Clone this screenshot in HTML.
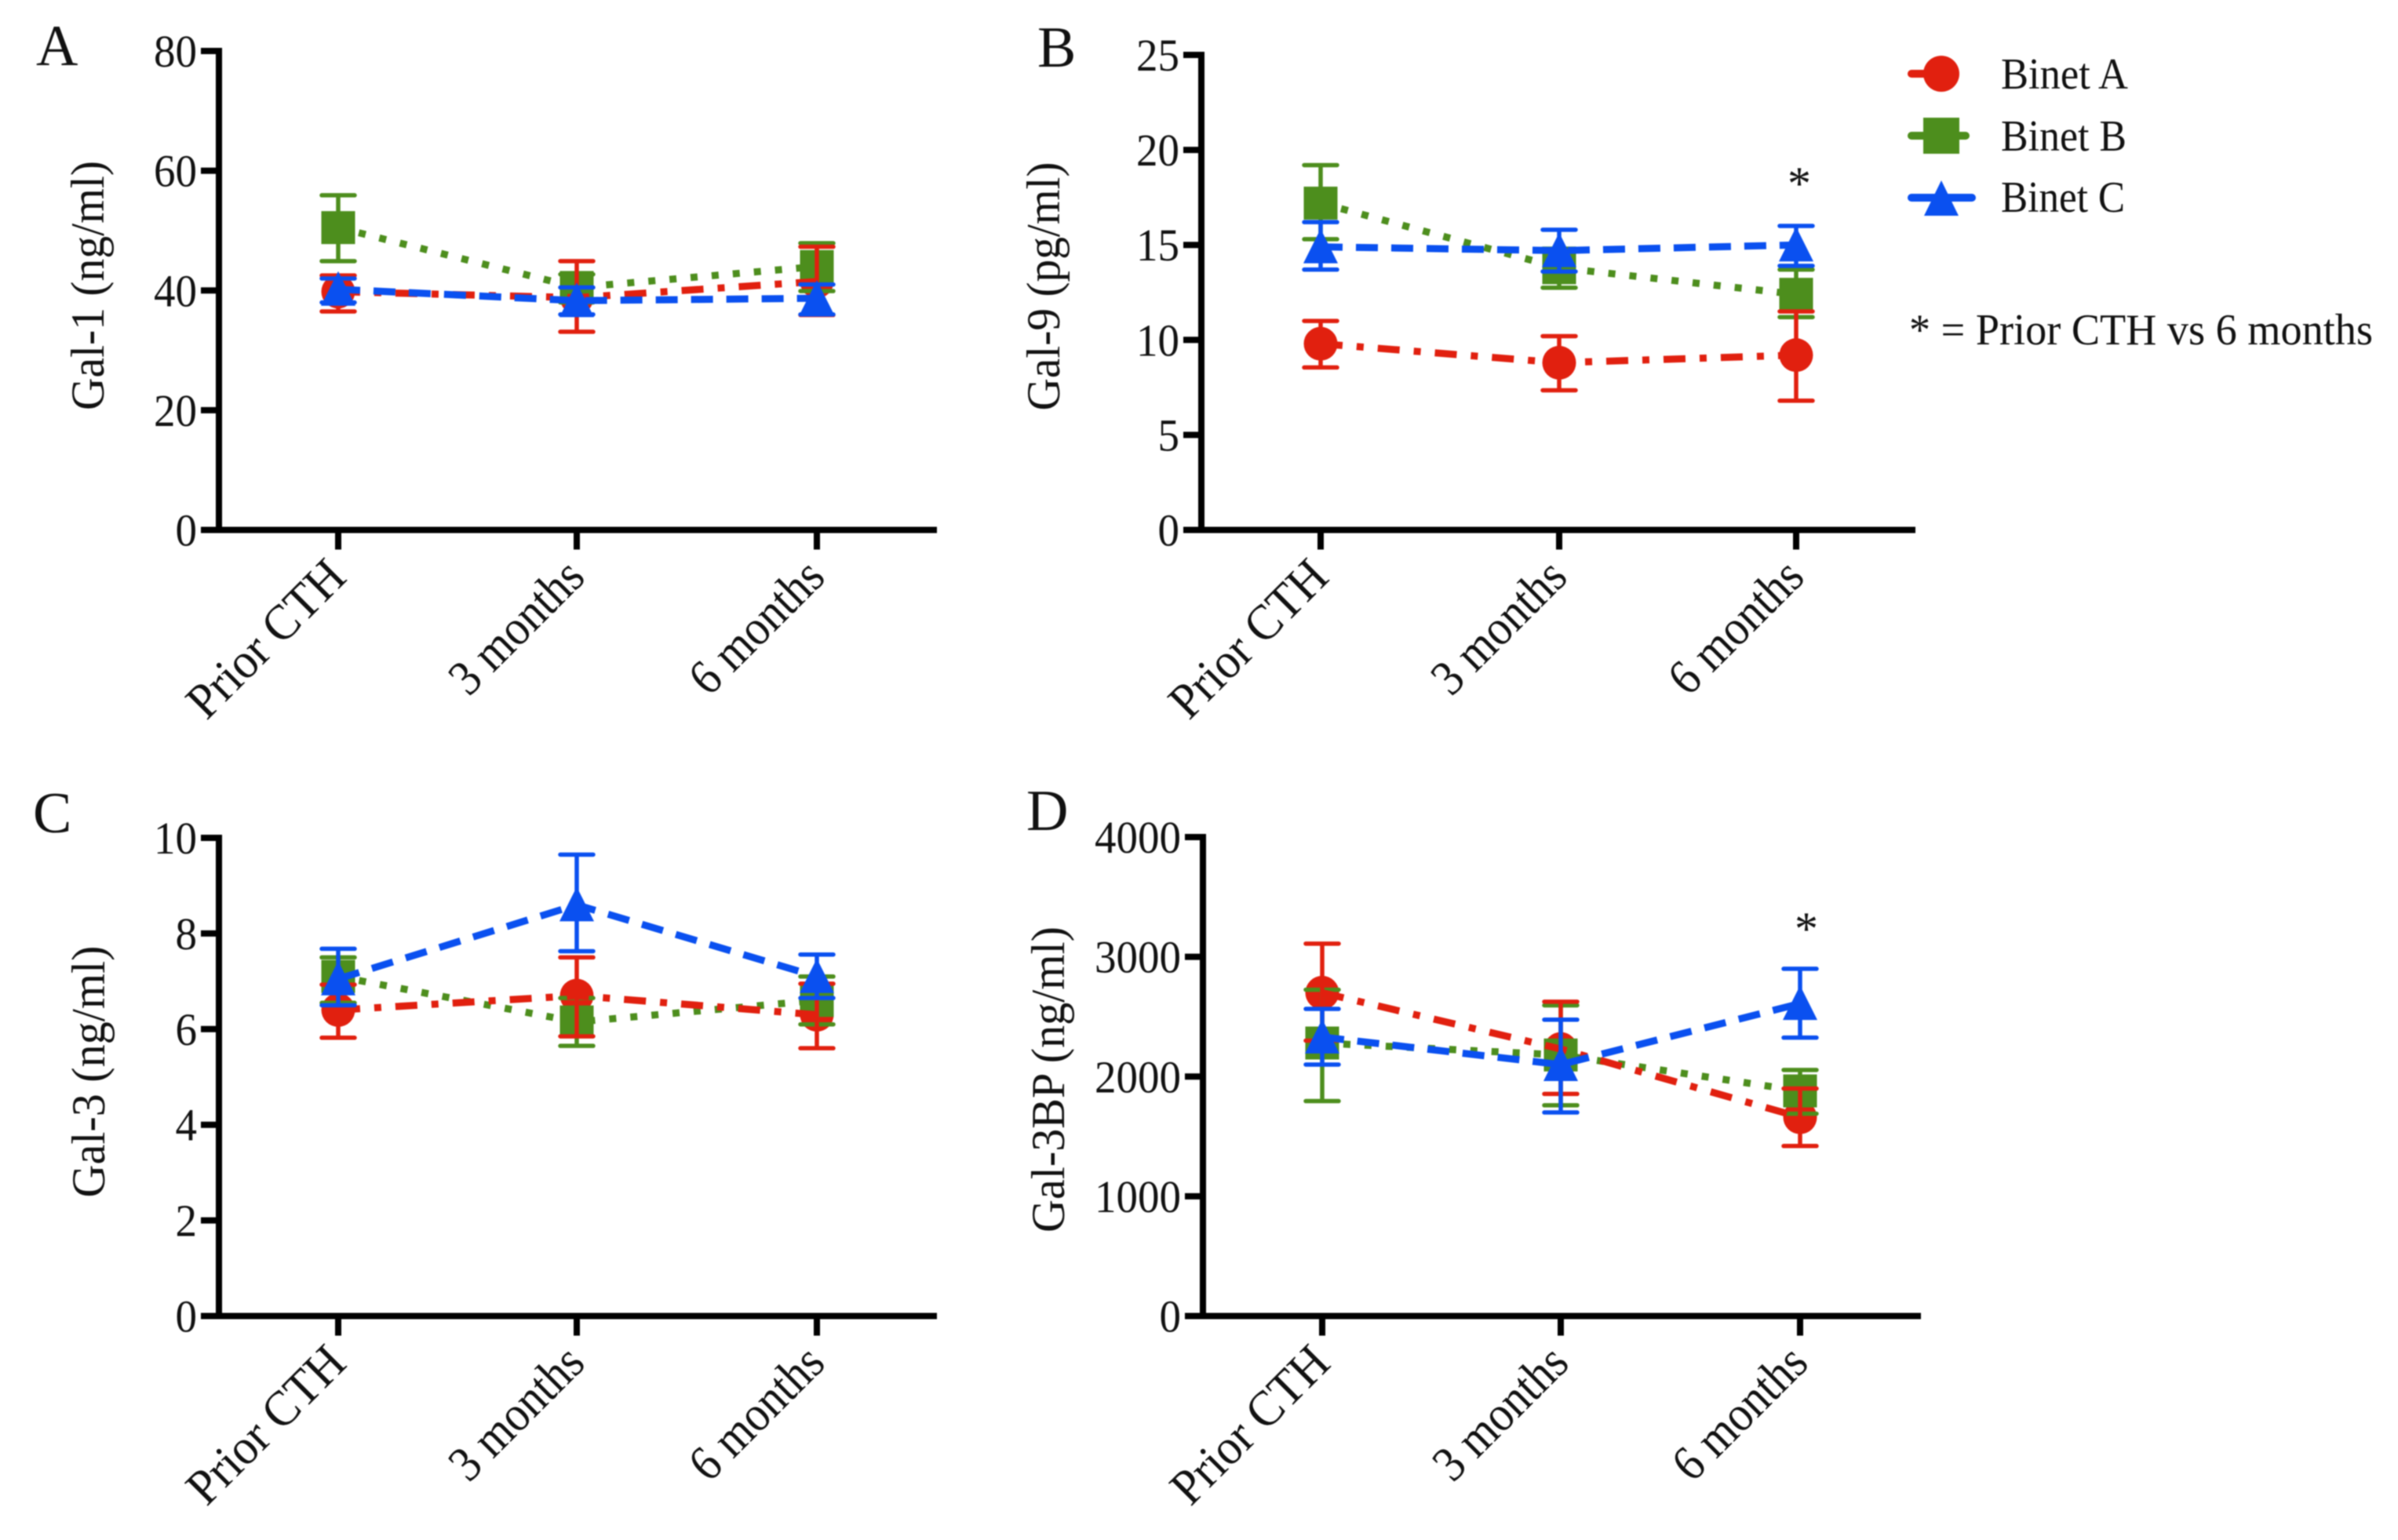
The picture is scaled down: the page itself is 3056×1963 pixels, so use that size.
<!DOCTYPE html>
<html lang="en">
<head>
<meta charset="utf-8">
<title>Galectin levels by Binet stage</title>
<style>
html,body{margin:0;padding:0;background:#fff;}
svg{display:block;filter:blur(0.7px);}
text{font-family:"Liberation Serif",serif;fill:#111;}
</style>
</head>
<body>
<svg id="figure" xmlns="http://www.w3.org/2000/svg" width="3056" height="1963" viewBox="0 0 3056 1963">
  <rect width="3056" height="1963" fill="#fff"/>
  <g id="panels"></g>
  <g>
    <g>
      <line x1="2436" x2="2490" y1="94" y2="94" stroke="#e1200f" stroke-width="10" stroke-linecap="round"/>
      <circle cx="2474" cy="94" r="23" fill="#e1200f"/>
      <text x="2550" y="113" font-size="56" textLength="162" lengthAdjust="spacingAndGlyphs">Binet A</text>
    </g>
    <g>
      <line x1="2436" x2="2505" y1="173" y2="173" stroke="#4d8e1d" stroke-width="10" stroke-linecap="round"/>
      <rect x="2451" y="150" width="46" height="46" fill="#4d8e1d"/>
      <text x="2550" y="192" font-size="56" textLength="160" lengthAdjust="spacingAndGlyphs">Binet B</text>
    </g>
    <g>
      <line x1="2436" x2="2513" y1="252" y2="252" stroke="#0a50f0" stroke-width="10" stroke-linecap="round"/>
      <polygon points="2474,230 2452,275 2496,275" fill="#0a50f0"/>
      <text x="2550" y="270" font-size="56" textLength="158" lengthAdjust="spacingAndGlyphs">Binet C</text>
    </g>
    <text x="2433" y="439" font-size="56" textLength="591" lengthAdjust="spacingAndGlyphs">* = Prior CTH vs 6 months</text>
  </g>
</svg>
<script>
const categories = ["Prior CTH", "3 months", "6 months"];
const seriesNames = ["Binet A", "Binet B", "Binet C"];

const gal1Ticks = [0, 20, 40, 60, 80];
const gal1BinetA = [39.8, 38.8, 41.5];
const gal1BinetAHigh = [42.5, 44.9, 47.3];
const gal1BinetALow = [36.5, 33.1, 35.9];
const gal1BinetB = [50.5, 40.5, 44];
const gal1BinetBHigh = [55.9, 42.7, 47.9];
const gal1BinetBLow = [44.9, 38, 39.9];
const gal1BinetC = [40.2, 38.3, 38.7];
const gal1BinetCHigh = [42, 40.5, 41];
const gal1BinetCLow = [38, 36, 36];

const gal9Ticks = [0, 5, 10, 15, 20, 25];
const gal9BinetA = [9.8, 8.8, 9.2];
const gal9BinetAHigh = [11, 10.2, 11.5];
const gal9BinetALow = [8.55, 7.35, 6.8];
const gal9BinetB = [17.2, 13.8, 12.4];
const gal9BinetBHigh = [19.2, 14.8, 13.7];
const gal9BinetBLow = [15.3, 12.75, 11.2];
const gal9BinetC = [14.9, 14.7, 15];
const gal9BinetCHigh = [16.2, 15.8, 16];
const gal9BinetCLow = [13.7, 13.6, 13.9];

const gal3Ticks = [0, 2, 4, 6, 8, 10];
const gal3BinetA = [6.4, 6.7, 6.3];
const gal3BinetAHigh = [6.93, 7.5, 6.95];
const gal3BinetALow = [5.82, 5.85, 5.6];
const gal3BinetB = [7.1, 6.15, 6.6];
const gal3BinetBHigh = [7.5, 6.65, 7.1];
const gal3BinetBLow = [6.55, 5.65, 6.1];
const gal3BinetC = [7.05, 8.6, 7.1];
const gal3BinetCHigh = [7.68, 9.65, 7.56];
const gal3BinetCLow = [6.5, 7.63, 6.65];

const gal3bpTicks = [0, 1000, 2000, 3000, 4000];
const gal3bpBinetA = [2700, 2230, 1660];
const gal3bpBinetAHigh = [3110, 2625, 1900];
const gal3bpBinetALow = [2300, 1855, 1420];
const gal3bpBinetB = [2280, 2180, 1880];
const gal3bpBinetBHigh = [2725, 2595, 2055];
const gal3bpBinetBLow = [1795, 1760, 1690];
const gal3bpBinetC = [2330, 2100, 2610];
const gal3bpBinetCHigh = [2565, 2475, 2900];
const gal3bpBinetCLow = [2100, 1700, 2325];

const NS = "http://www.w3.org/2000/svg";
const root = document.getElementById("panels");
const colors = ["#e1200f", "#4d8e1d", "#0a50f0"];
const dashes = ["28 18 9 18", "9 18", "28 17"];

const panels = [
  { id: "a", letter: "A", lx: 46, ly: 83, title: "Gal-1 (ng/ml)", titleX: 132, titleY: 364, titleLen: 318,
    axisX: 279, xEnd: 1194, xTicks: [431, 735, 1041], y0: 675.5, yTop: 65, ticks: gal1Ticks,
    means: [gal1BinetA, gal1BinetB, gal1BinetC], highs: [gal1BinetAHigh, gal1BinetBHigh, gal1BinetCHigh], lows: [gal1BinetALow, gal1BinetBLow, gal1BinetCLow] },
  { id: "b", letter: "B", lx: 1322, ly: 85, title: "Gal-9 (pg/ml)", titleX: 1350, titleY: 365, titleLen: 317,
    axisX: 1531, xEnd: 2441, xTicks: [1683, 1987, 2289], y0: 675.5, yTop: 70, ticks: gal9Ticks, star: [2293, 254],
    means: [gal9BinetA, gal9BinetB, gal9BinetC], highs: [gal9BinetAHigh, gal9BinetBHigh, gal9BinetCHigh], lows: [gal9BinetALow, gal9BinetBLow, gal9BinetCLow] },
  { id: "c", letter: "C", lx: 42, ly: 1061, title: "Gal-3 (ng/ml)", titleX: 133, titleY: 1366, titleLen: 321,
    axisX: 279, xEnd: 1194, xTicks: [431, 735, 1041], y0: 1677.5, yTop: 1068, ticks: gal3Ticks,
    means: [gal3BinetA, gal3BinetB, gal3BinetC], highs: [gal3BinetAHigh, gal3BinetBHigh, gal3BinetCHigh], lows: [gal3BinetALow, gal3BinetBLow, gal3BinetCLow] },
  { id: "d", letter: "D", lx: 1308, ly: 1058, title: "Gal-3BP (ng/ml)", titleX: 1356, titleY: 1376, titleLen: 390,
    axisX: 1533, xEnd: 2448, xTicks: [1685, 1989, 2294], y0: 1677.5, yTop: 1067, ticks: gal3bpTicks, star: [2302, 1204],
    means: [gal3bpBinetA, gal3bpBinetB, gal3bpBinetC], highs: [gal3bpBinetAHigh, gal3bpBinetBHigh, gal3bpBinetCHigh], lows: [gal3bpBinetALow, gal3bpBinetBLow, gal3bpBinetCLow] }
];

function make(tag, attrs, parent, txt) {
  const node = document.createElementNS(NS, tag);
  for (const k in attrs) node.setAttribute(k, attrs[k]);
  if (txt !== undefined) node.textContent = txt;
  parent.appendChild(node);
  return node;
}

function xScale(p, i) { return p.xTicks[i]; }
function yScale(p, v) {
  const maxV = p.ticks[p.ticks.length - 1];
  return p.y0 + (p.yTop - p.y0) * v / maxV;
}

function drawBars(p, s, g) {
  p.means[s].forEach(function (m, i) {
    const xx = xScale(p, i);
    const hi = yScale(p, p.highs[s][i]);
    const lo = yScale(p, p.lows[s][i]);
    const bar = make("path", {
      d: "M" + (xx - 21) + " " + hi + "H" + (xx + 21) + "M" + xx + " " + hi + "V" + lo + "M" + (xx - 21) + " " + lo + "H" + (xx + 21),
      fill: "none", stroke: colors[s], "stroke-width": 5.5, "stroke-linecap": "round"
    }, g);
    
    
  });
}

function drawLine(p, s, g) {
  const pts = p.means[s].map(function (m, i) { return xScale(p, i) + "," + yScale(p, m); }).join(" ");
  const line = make("polyline", { points: pts, fill: "none", stroke: colors[s], "stroke-width": 9, "stroke-dasharray": dashes[s] }, g);
  
  
}

function drawMarks(p, s, g) {
  p.means[s].forEach(function (m, i) {
    const xx = xScale(p, i);
    const yy = yScale(p, m);
    let mark;
    if (s === 0) {
      mark = make("circle", { cx: xx, cy: yy, r: 21.5, fill: colors[s] }, g);
    } else if (s === 1) {
      mark = make("rect", { x: xx - 21.5, y: yy - 21, width: 43, height: 42, fill: colors[s] }, g);
    } else {
      mark = make("polygon", { points: xx + "," + (yy - 23) + " " + (xx - 22) + "," + (yy + 21) + " " + (xx + 22) + "," + (yy + 21), fill: colors[s] }, g);
    }
    
    
  });
}

panels.forEach(function (p) {
  const g = make("g", {}, root);
  
  

  const letter = make("text", { x: p.lx, y: p.ly, "font-size": 74 }, g, p.letter);
  
  

  const title = make("text", {
    transform: "translate(" + p.titleX + "," + p.titleY + ") rotate(-90)",
    "text-anchor": "middle", "font-size": 60, textLength: p.titleLen, lengthAdjust: "spacingAndGlyphs"
  }, g, p.title);
  
  

  const yAxis = make("line", { x1: p.axisX, x2: p.axisX, y1: p.yTop - 4, y2: p.y0 + 4, stroke: "#000", "stroke-width": 8 }, g);
  
  

  const xAxis = make("line", { x1: p.axisX - 23, x2: p.xEnd, y1: p.y0, y2: p.y0, stroke: "#000", "stroke-width": 8 }, g);
  
  

  p.ticks.forEach(function (t) {
    const yy = yScale(p, t);
    const tick = make("line", { x1: p.axisX - 23, x2: p.axisX, y1: yy, y2: yy, stroke: "#000", "stroke-width": 8 }, g);
    
    
    const str = String(t);
    const label = make("text", {
      x: p.axisX - 28, y: yy + 20, "text-anchor": "end", "font-size": 58,
      textLength: str.length * 27.5, lengthAdjust: "spacingAndGlyphs"
    }, g, str);
    
    
  });

  categories.forEach(function (c, i) {
    const xx = xScale(p, i);
    const tick = make("line", { x1: xx, x2: xx, y1: p.y0, y2: p.y0 + 25, stroke: "#000", "stroke-width": 8 }, g);
    
    
    const squeeze = i === 0 ? 0.94 : 0.9;
    const label = make("text", {
      transform: "translate(" + (xx + 13) + "," + (p.y0 + 63) + ") rotate(-45) scale(" + squeeze + ",1)",
      "text-anchor": "end", "font-size": 64
    }, g, c);
    
    
  });

  drawMarks(p, 0, g);
  drawBars(p, 1, g);
  drawLine(p, 1, g);
  drawMarks(p, 1, g);
  drawBars(p, 0, g);
  drawLine(p, 0, g);
  drawBars(p, 2, g);
  drawLine(p, 2, g);
  drawMarks(p, 2, g);

  if (p.star) {
    const star = make("text", { x: p.star[0], y: p.star[1], "text-anchor": "middle", "font-size": 60 }, g, "*");
    
    
  }
});
</script>
</body>
</html>
